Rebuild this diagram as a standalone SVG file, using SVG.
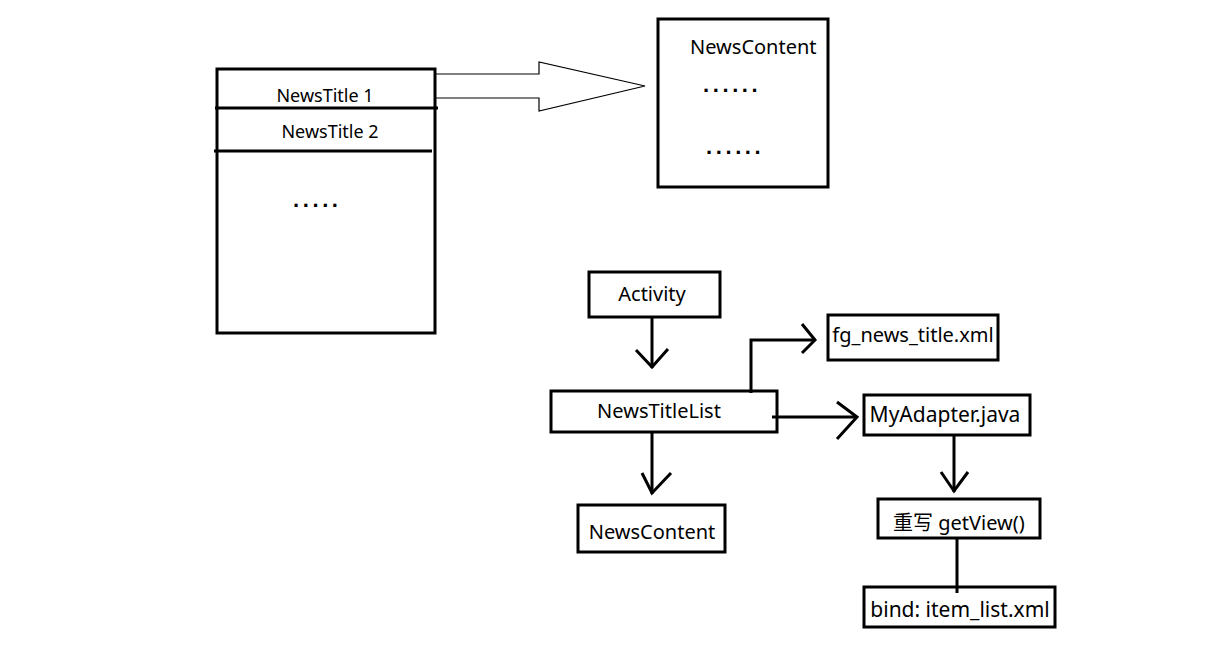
<svg xmlns="http://www.w3.org/2000/svg" width="1207" height="663" viewBox="0 0 1207 663">
<style>
.box{fill:#fff;stroke:#000;stroke-width:3}
.ln{fill:none;stroke:#000;stroke-width:3}
.t{font-family:"Noto Sans","Noto Sans CJK SC",sans-serif;font-size:20px;fill:#000}
.s{font-size:18px}
.l{font-size:21px}
.d{font-family:"Liberation Sans",sans-serif;font-size:22px;font-weight:bold;letter-spacing:3.6px;fill:#000}
</style>
<rect width="1207" height="663" fill="#fff"/>
<g id="list">
<rect class="box" x="217" y="69" width="218" height="264"/>
<line class="ln" x1="215" y1="108" x2="438" y2="108"/>
<line class="ln" x1="214" y1="151" x2="432" y2="151"/>
<text class="t s" x="325" y="102" text-anchor="middle">NewsTitle 1</text>
<text class="t s" x="330" y="138" text-anchor="middle">NewsTitle 2</text>
<text class="d" x="293" y="207">.....</text>
</g>
<g id="newscontent-top">
<rect class="box" x="658" y="19" width="170" height="168"/>
<text class="t" x="690" y="54">NewsContent</text>
<text class="d" x="703" y="92">......</text>
<text class="d" x="706" y="154">......</text>
</g>
<g id="activity">
<rect class="box" x="589" y="272" width="131" height="45"/>
<text class="t" x="652" y="301" text-anchor="middle">Activity</text>
</g>
<g id="newstitlelist">
<rect class="box" x="551" y="391" width="226" height="41"/>
<text class="t" x="659" y="418" text-anchor="middle">NewsTitleList</text>
</g>
<g id="newscontent">
<rect class="box" x="578" y="505" width="147" height="47"/>
<text class="t" x="652" y="539" text-anchor="middle">NewsContent</text>
</g>
<g id="fg">
<rect class="box" x="828" y="315" width="170" height="45"/>
<text class="t" x="913" y="342" text-anchor="middle">fg_news_title.xml</text>
</g>
<g id="adapter">
<rect class="box" x="864" y="395" width="166" height="40"/>
<text class="t l" x="945" y="422" text-anchor="middle">MyAdapter.java</text>
</g>
<g id="getview">
<rect class="box" x="878" y="499" width="162" height="39"/>
<text class="t" x="893" y="530">重写 getView()</text>
</g>
<g id="bind">
<rect class="box" x="864" y="587" width="191" height="40"/>
<text class="t l" x="960" y="617" text-anchor="middle">bind: item_list.xml</text>
</g>
<g id="connectors">
<path d="M436,74 H539 V62 L645,86 L539,111 V98 H436" fill="none" stroke="#000" stroke-width="1.2"/>
<line class="ln" x1="652" y1="317" x2="652" y2="368"/>
<polyline class="ln" points="636,350 652,367 668,349"/>
<polyline class="ln" points="751,393 751,340 815,340"/>
<polyline class="ln" points="802,324 815,340 802,353"/>
<line class="ln" x1="772" y1="417" x2="857" y2="417"/>
<polyline class="ln" points="837,402 857,417 837,439"/>
<line class="ln" x1="652" y1="432" x2="652" y2="494"/>
<polyline class="ln" points="642,473 652,493 671,473"/>
<line class="ln" x1="954" y1="435" x2="954" y2="492"/>
<polyline class="ln" points="941,472 954,491 968,472"/>
<line class="ln" x1="957" y1="538" x2="957" y2="593"/>
</g>
</svg>
